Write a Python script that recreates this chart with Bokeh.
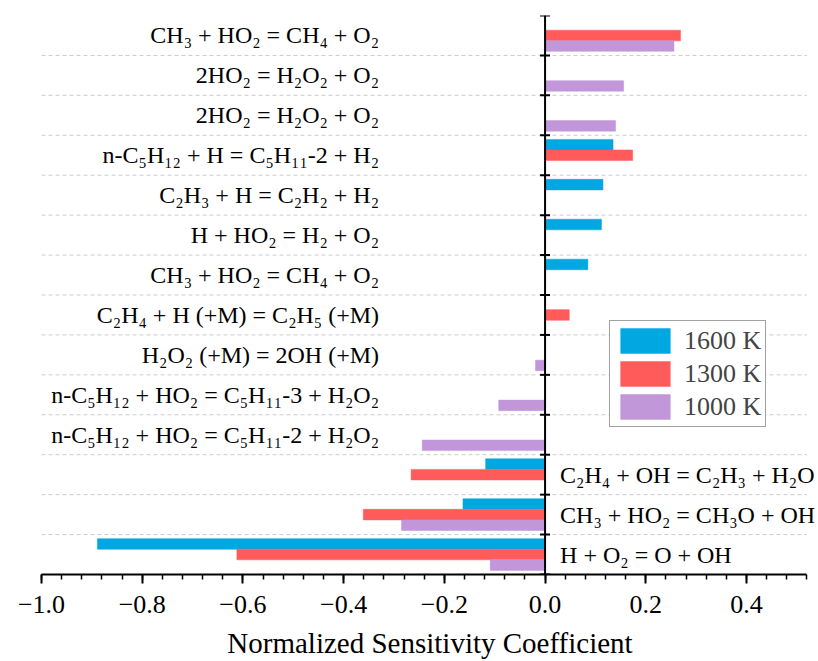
import numpy as np
from bokeh.plotting import figure
from bokeh.models import (ColumnDataSource, Range1d, FixedTicker, CustomJSTickFormatter,
                          Span, Legend, LegendItem, LabelSet)
from bokeh.embed import file_html
from bokeh.resources import INLINE

nan = float("nan")

# ---- data (top to bottom) ----
reactions = [
    "CH₃ + HO₂ = CH₄ + O₂",
    "2HO₂ = H₂O₂ + O₂",
    "2HO₂ = H₂O₂ + O₂",
    "n-C₅H₁₂ + H = C₅H₁₁-2 + H₂",
    "C₂H₃ + H = C₂H₂ + H₂",
    "H + HO₂ = H₂ + O₂",
    "CH₃ + HO₂ = CH₄ + O₂",
    "C₂H₄ + H (+M) = C₂H₅ (+M)",
    "H₂O₂ (+M) = 2OH (+M)",
    "n-C₅H₁₂ + HO₂ = C₅H₁₁-3 + H₂O₂",
    "n-C₅H₁₂ + HO₂ = C₅H₁₁-2 + H₂O₂",
    "C₂H₄ + OH = C₂H₃ + H₂O",
    "CH₃ + HO₂ = CH₃O + OH",
    "H + O₂ = O + OH",
]
label_side = ["left"] * 11 + ["right"] * 3

s1600 = [nan, nan, nan, 0.135, 0.115, 0.112, 0.085, nan, nan, nan, nan, -0.118, -0.163, -0.889]
s1300 = [0.269, nan, nan, 0.174, nan, nan, nan, 0.048, nan, nan, nan, -0.266, -0.361, -0.612]
s1000 = [0.256, 0.156, 0.140, nan, nan, nan, nan, nan, -0.019, -0.092, -0.244, nan, -0.285, -0.109]

series_names = ["1600 K", "1300 K", "1000 K"]
series_colors = ["#00A7E1", "#FF5B5B", "#C197DA"]

x_ticks = [-1.0, -0.8, -0.6, -0.4, -0.2, 0.0, 0.2, 0.4]
x_min, x_max = -1.0, 0.52
x_view_max = 0.543   # frame extends a little past the axis end so right labels are not clipped
x_axis_title = "Normalized Sensitivity Coefficient"

# ---- layout helpers ----
n = len(reactions)
centers = [n - 1 - i + 0.5 for i in range(n)]
boundaries = list(range(0, n + 1))
bar_h = 0.265
offsets = [bar_h, 0.0, -bar_h]

FONT = "Liberation Serif"

p = figure(width=818, height=661, output_backend="svg", toolbar_location=None,
           x_range=Range1d(x_min, x_view_max), y_range=Range1d(0, n),
           min_border_left=41, min_border_right=0, min_border_top=15)
p.outline_line_color = None
p.background_fill_color = "white"
p.border_fill_color = "white"

# dashed separators between categories (drawn only over the axis extent)
inner = boundaries[1:-1]
p.segment(x0=[x_min] * len(inner), y0=inner, x1=[x_max] * len(inner), y1=inner,
          line_color="#cccccc", line_dash="4 3", line_width=1)

renderers = []
for vals, col, off in zip([s1600, s1300, s1000], series_colors, offsets):
    src = ColumnDataSource(dict(y=[c + off for c in centers], right=vals))
    r = p.hbar(y="y", left=0, right="right", height=bar_h, source=src,
               fill_color=col, line_color=col, line_width=0.5)
    renderers.append(r)

# reaction labels
lsrc = ColumnDataSource(dict(
    x=[0.0] * label_side.count("left"),
    y=[c for c, s in zip(centers, label_side) if s == "left"],
    t=[t for t, s in zip(reactions, label_side) if s == "left"]))
rsrc = ColumnDataSource(dict(
    x=[0.0] * label_side.count("right"),
    y=[c for c, s in zip(centers, label_side) if s == "right"],
    t=[t for t, s in zip(reactions, label_side) if s == "right"]))
p.add_layout(LabelSet(x="x", y="y", text="t", source=lsrc, x_offset=-166,
                      text_align="right", text_baseline="middle", text_font=FONT,
                      text_font_size="24px", text_color="black"))
p.add_layout(LabelSet(x="x", y="y", text="t", source=rsrc, x_offset=15,
                      text_align="left", text_baseline="middle", text_font=FONT,
                      text_font_size="24px", text_color="black"))

# vertical zero axis with ticks at category boundaries
p.add_layout(Span(location=0, dimension="height", line_color="black", line_width=2))
p.scatter(x=[0] * len(boundaries), y=boundaries, marker="dash", size=10,
          line_color="black", line_width=2)

# grid
p.xgrid.visible = False
p.ygrid.visible = False
p.yaxis.visible = False

# x axis
minor = [round(v, 2) for v in np.arange(x_min, x_max + 1e-9, 0.04)]
xa = p.xaxis[0]
xa.bounds = (x_min, x_max)
xa.ticker = FixedTicker(ticks=x_ticks, minor_ticks=minor)
xa.formatter = CustomJSTickFormatter(
    code="return (tick < -1e-9 ? '\u2212' : '') + Math.abs(tick).toFixed(1);")
xa.axis_line_width = 2
xa.axis_line_color = "black"
xa.major_tick_in = 0
xa.major_tick_out = 9
xa.major_tick_line_width = 2
xa.minor_tick_in = 0
xa.minor_tick_out = 5
xa.minor_tick_line_width = 1.5
xa.major_label_text_font = FONT
xa.major_label_text_font_size = "26px"
xa.major_label_text_color = "black"
xa.major_label_standoff = 12
xa.axis_label = x_axis_title
xa.axis_label_text_font = FONT
xa.axis_label_text_font_size = "29px"
xa.axis_label_text_font_style = "normal"
xa.axis_label_text_color = "black"
xa.axis_label_standoff = 11

legend = Legend(items=[LegendItem(label=nm, renderers=[r]) for nm, r in zip(series_names, renderers)],
                location=(568, 147), border_line_color="#444444", border_line_width=1,
                glyph_width=62, glyph_height=31, label_text_font=FONT,
                label_text_font_size="26px", padding=4, spacing=2, margin=0,
                label_standoff=8, background_fill_alpha=1.0)
p.add_layout(legend)

open("out.html", "w").write(file_html(p, INLINE))
